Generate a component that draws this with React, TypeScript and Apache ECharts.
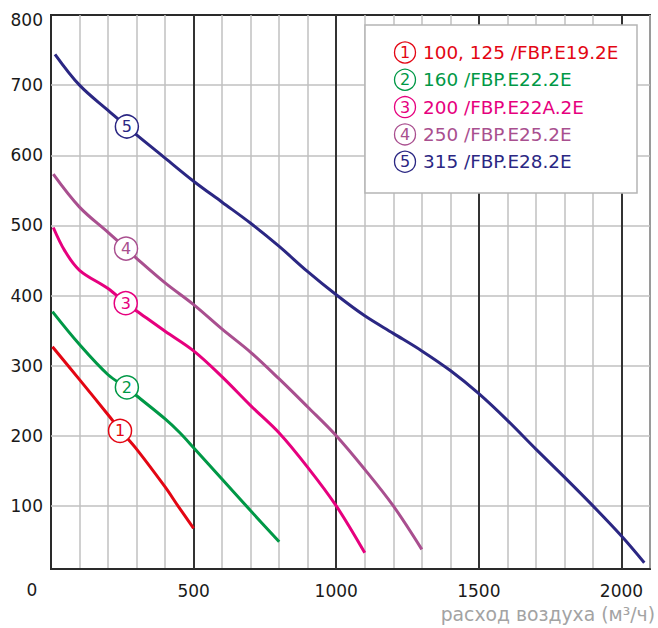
import React, { useEffect, useRef } from "react";
import * as echarts from "echarts";

// Air flow (m³/h) and pressure (Pa)
const redX = [5, 100, 200, 245, 300, 400, 445, 500];
const redY = [327, 280, 230, 207, 181, 127, 100, 68];
const greenX = [5, 100, 200, 264, 300, 400, 450, 500, 600, 700, 800];
const greenY = [377, 330, 287, 269, 257, 224, 205, 183, 138, 93, 49];
const magentaX = [8, 48, 100, 200, 262, 300, 400, 500, 600, 700, 800, 900, 1000, 1100];
const magentaY = [497, 464, 436, 410, 389, 378, 349, 321, 284, 243, 204, 155, 100, 33];
const purpleX = [8, 100, 200, 263, 300, 400, 500, 600, 700, 800, 900, 1000, 1100, 1200, 1300];
const purpleY = [573, 526, 490, 467, 453, 418, 387, 352, 319, 281, 241, 200, 152, 100, 38];
const navyX = [14, 100, 200, 266, 300, 400, 500, 600, 700, 800, 900, 1000, 1100, 1200, 1300, 1400, 1500, 1600, 1700, 1800, 1900, 2000, 2080];
const navyY = [744, 700, 664, 641, 629, 596, 563, 533, 503, 470, 434, 401, 371, 346, 321, 293, 260, 222, 181, 141, 100, 57, 19];

const seriesNames = [
  "100, 125 /FBP.E19.2E",
  "160 /FBP.E22.2E",
  "200 /FBP.E22A.2E",
  "250 /FBP.E25.2E",
  "315 /FBP.E28.2E",
];
const seriesColors = ["#e30613", "#009846", "#e6007e", "#a94f8f", "#2b2783"];
const markerX = [242, 266, 262, 263, 266];
const markerY = [207, 269, 389, 467, 641];

const xTicks = [500, 1000, 1500, 2000];
const yTicks = [100, 200, 300, 400, 500, 600, 700, 800];
const xName = "расход воздуха (м³/ч)";

const FONT = '"DejaVu Sans", Verdana, sans-serif';

export default function App() {
  const ref = useRef<HTMLDivElement>(null);

  useEffect(() => {
    document.body.style.margin = "0";
    if (!ref.current) return;
    const chart = echarts.init(ref.current, undefined, { renderer: "svg" });

    const xs = [redX, greenX, magentaX, purpleX, navyX];
    const ys = [redY, greenY, magentaY, purpleY, navyY];

    const lineSeries: any[] = xs.map((xa, i) => ({
      type: "line",
      name: seriesNames[i],
      data: xa.map((x, j) => [x, ys[i][j]]),
      smooth: 0.35,
      showSymbol: false,
      symbol: "none",
      z: 10,
      lineStyle: { color: seriesColors[i], width: 3 },
      silent: true,
    }));

    const markerSeries: any[] = markerX.map((x, i) => ({
      type: "scatter",
      data: [[x, markerY[i]]],
      symbol: "circle",
      symbolSize: 23,
      z: 12,
      silent: true,
      itemStyle: { color: "#ffffff", borderColor: seriesColors[i], borderWidth: 1.5, opacity: 1 },
      label: {
        show: true,
        position: "inside",
        formatter: String(i + 1),
        color: seriesColors[i],
        fontSize: 16,
        fontFamily: FONT,
      },
    }));

    const gridSeries: any = {
      type: "line",
      data: [],
      silent: true,
      z: 1,
      markLine: {
        silent: true,
        symbol: "none",
        label: { show: false },
        animation: false,
        data: [
          ...yTicks
            .filter((v) => v < 800)
            .map((v) => ({ yAxis: v, lineStyle: { color: "#c0c0c0", width: 1.5, type: "solid" } })),
          ...xTicks.map((v) => ({ xAxis: v, lineStyle: { color: "#333333", width: 2, type: "solid" } })),
        ],
      },
    };

    const legendEls: any[] = [
      {
        type: "rect",
        shape: { x: 365, y: 25, width: 272, height: 168 },
        style: { fill: "#ffffff", stroke: "#b5b5b5", lineWidth: 1.5 },
        z: 100,
      },
    ];
    seriesNames.forEach((name, i) => {
      const cy = 52.5 + 27.3 * i;
      legendEls.push({
        type: "circle",
        shape: { cx: 405, cy, r: 10.5 },
        style: { fill: "#ffffff", stroke: seriesColors[i], lineWidth: 1.3 },
        z: 101,
      });
      legendEls.push({
        type: "text",
        x: 405,
        y: cy,
        z: 102,
        style: {
          text: String(i + 1),
          fill: seriesColors[i],
          font: `16px ${FONT}`,
          align: "center",
          verticalAlign: "middle",
          textAlign: "center",
          textVerticalAlign: "middle",
        },
      });
      legendEls.push({
        type: "text",
        x: 423,
        y: cy,
        z: 102,
        style: {
          text: name,
          fill: seriesColors[i],
          font: `18.4px ${FONT}`,
          align: "left",
          verticalAlign: "middle",
          textAlign: "left",
          textVerticalAlign: "middle",
        },
      });
    });
    legendEls.push({
      type: "text",
      x: 32,
      y: 590,
      style: {
        text: "0",
        fill: "#1a1a1a",
        font: `17px ${FONT}`,
        align: "center",
        verticalAlign: "middle",
        textAlign: "center",
        textVerticalAlign: "middle",
      },
    });
    legendEls.push({
      type: "text",
      x: 655,
      y: 614,
      style: {
        text: xName,
        fill: "#a3a3a3",
        font: `18.8px ${FONT}`,
        align: "right",
        verticalAlign: "middle",
        textAlign: "right",
        textVerticalAlign: "middle",
      },
    });

    chart.setOption({
      animation: false,
      grid: {
        left: 51,
        right: 8,
        top: 15,
        bottom: 59,
        show: true,
        borderColor: "#2a2a2a",
        borderWidth: 2,
        backgroundColor: "transparent",
      },
      xAxis: {
        type: "value",
        min: 0,
        max: 2100,
        interval: 100,
        axisLine: { show: true, lineStyle: { color: "#2a2a2a", width: 2 } },
        axisTick: { show: false },
        splitLine: { show: true, lineStyle: { color: "#c0c0c0", width: 1.5 } },
        axisLabel: {
          margin: 13,
          fontSize: 17,
          fontFamily: FONT,
          color: "#1a1a1a",
          formatter: (v: number) => (xTicks.includes(v) ? String(v) : ""),
          showMinLabel: true,
          showMaxLabel: true,
        },
      },
      yAxis: {
        type: "value",
        min: 10,
        max: 800,
        axisLine: { show: true, lineStyle: { color: "#2a2a2a", width: 2 } },
        axisTick: { show: false, customValues: yTicks },
        splitLine: { show: false },
        axisLabel: {
          customValues: yTicks,
          margin: 8,
          fontSize: 17,
          fontFamily: FONT,
          color: "#1a1a1a",
          formatter: (v: number) => (v === 800 ? "{t|800}" : String(v)),
          rich: {
            t: { padding: [9, 0, 0, 0], fontSize: 17, fontFamily: FONT, color: "#1a1a1a" },
          },
        },
      },
      graphic: { elements: legendEls },
      series: [gridSeries, ...lineSeries, ...markerSeries],
    });

    return () => {
      chart.dispose();
    };
  }, []);

  return <div ref={ref} style={{ width: 658, height: 628 }} />;
}
